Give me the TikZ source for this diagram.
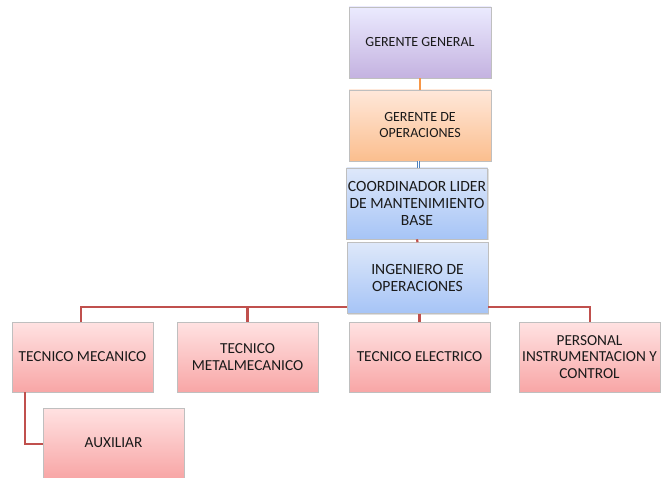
\documentclass[tikz,border=0pt]{standalone}
\usepackage{fontspec}
\setmainfont{Carlito}
\usetikzlibrary{shadows}
\definecolor{txt}{HTML}{1A1A1A}
\definecolor{redline}{HTML}{C0504D}
\definecolor{orangeline}{HTML}{F79646}
\definecolor{blueline}{HTML}{4F81BD}
\tikzset{
  box/.style={draw=black!25, line width=0.6pt, minimum width=#1, align=center,
    text=txt, font=\fontsize{14}{16}\selectfont, inner sep=1pt,
    drop shadow={shadow xshift=1.2pt, shadow yshift=-1.2pt, opacity=0.25}},
  bigtext/.style={font=\fontsize{15.6}{16.8}\selectfont},
  purplebox/.style={box=142pt, minimum height=71pt, top color=purple!3!blue!8!white, bottom color={rgb,255:red,196;green,178;blue,224}},
  orangebox/.style={box=142pt, minimum height=71pt, top color={rgb,255:red,255;green,232;blue,218}, bottom color={rgb,255:red,251;green,190;blue,142}},
  bluebox/.style={box=141pt, bigtext, minimum height=71pt, top color={rgb,255:red,222;green,232;blue,250}, bottom color={rgb,255:red,166;green,196;blue,246}},
  redbox/.style={box=141pt, font=\fontsize{15.3}{16.8}\selectfont, minimum height=70pt, top color={rgb,255:red,255;green,226;blue,226}, bottom color={rgb,255:red,248;green,166;blue,166}},
  redconn/.style={draw=redline, line width=2.2pt},
}
\begin{document}
\begin{tikzpicture}[x=1pt,y=-1pt]
\useasboundingbox (0,0) rectangle (661,478);
\clip (0,0) rectangle (661,478);
\coordinate (busL) at (81,307);
\coordinate (busR) at (590,307);
\coordinate (bl) at (418,0);
\node[purplebox] (gg) at (420,42.5) {GERENTE GENERAL};
\node[orangebox] (go) at (420,125.5) {GERENTE DE\\OPERACIONES};
\node[bluebox] (co) at (417,203.5) {COORDINADOR LIDER\\DE MANTENIMIENTO\\BASE};
\node[bluebox] (ing) at (417.5,278) {INGENIERO DE\\OPERACIONES};
\draw[draw=orangeline, line width=2.2pt] (gg.south) -- (go.north);
\draw[draw=blueline, line width=1pt, double=white, double distance=1pt] (go.south -| bl) -- (co.north -| bl);
\draw[redconn] (co.south) -- (ing.north);
\node[redbox] (tm) at (82.5,357) {TECNICO MECANICO};
\node[redbox] (tmm) at (247.5,357) {TECNICO\\METALMECANICO};
\node[redbox] (te) at (419.5,357) {TECNICO ELECTRICO};
\node[redbox] (pic) at (589.5,357) {PERSONAL\\INSTRUMENTACION Y\\CONTROL};
\node[redbox] (aux) at (113.5,443) {AUXILIAR};
\draw[redconn] (ing.west |- busL) -- (busL) -- (busL |- tm.north);
\draw[redconn] (busL -| tmm.north) -- (tmm.north);
\draw[redconn] (ing.east |- busR) -- (busR) -- (busR |- pic.north);
\draw[redconn] (ing.south -| te.north) -- (te.north);
\coordinate (auxc) at (25,444);
\draw[redconn] (tm.south -| auxc) -- (auxc) -- (aux.west |- auxc);
\end{tikzpicture}
\end{document}
